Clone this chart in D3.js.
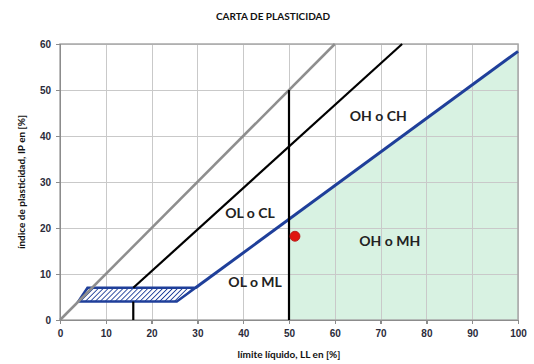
<!doctype html>
<html lang='es'>
<head>
<meta charset='UTF-8'>
<title>Carta de plasticidad</title>
<style>
  body,html{ margin:0; padding:0; background:#fff; font-family:'Lato','Open Sans',sans-serif; }
  .grid line{ stroke:#c9c9c9; stroke-width:1; shape-rendering:crispEdges; }
  .axis path, .axis line{ stroke:#8c8c8c; stroke-width:1.5; shape-rendering:crispEdges; }
  .axis text{ font-size:10px; font-weight:bold; fill:#2b2b3a; }
  .zone{ font-size:14px; font-weight:bold; fill:#222; text-anchor:middle; }
</style>
</head>
<body>
<script src='https://d3js.org/d3.v7.min.js'></script>
<script>
  // ticks
  const xTicks = [0, 10, 20, 30, 40, 50, 60, 70, 80, 90, 100]
  const yTicks = [0, 10, 20, 30, 40, 50, 60]

  // lineas de la carta [LL, IP]
  const lineIP_LL = [[0, 0], [60, 60]]             // IP = LL
  const lineU = [[16, 7], [74.7, 60]]               // linea U
  const lineA = [[29.6, 7], [100, 58.4]]            // linea A
  const hatchBand = [[4, 4], [25.5, 4], [29.6, 7], [6, 7]]
  const greenZone = [[50, 0], [50, 21.9], [100, 58.4], [100, 0]]
  const vLine16 = [[16, 0], [16, 4]]
  const vLine50 = [[50, 0], [50, 50]]

  // muestra
  const sampleLL = [51.3]
  const sampleIP = [18.2]

  // etiquetas de zona
  const zoneNames = ['OH o CH', 'OL o CL', 'OH o MH', 'OL o ML']
  const zoneLL = [69.5, 41.5, 72, 42.6]
  const zoneIP = [43.2, 22.2, 16.0, 7.2]

  const w = 534, h = 364
  const margin = {top: 44, left: 60, right: 16, bottom: 44}
  const width = w - margin.left - margin.right
  const height = h - margin.top - margin.bottom

  const x = d3.scaleLinear().domain([0, 100]).range([0, width])
  const y = d3.scaleLinear().domain([0, 60]).range([height, 0])

  const svg = d3.select('body').append('svg')
    .attr('width', w).attr('height', h)

  // patron rayado
  const pat = svg.append('defs').append('pattern')
    .attr('id', 'hatch')
    .attr('patternUnits', 'userSpaceOnUse')
    .attr('width', 3.5).attr('height', 3.5)
    .attr('patternTransform', 'rotate(45)')
  pat.append('rect').attr('width', 3.5).attr('height', 3.5).attr('fill', '#fff')
  pat.append('line').attr('x1', 0).attr('y1', 0).attr('x2', 0).attr('y2', 3.5)
    .attr('stroke', '#1f3f9a').attr('stroke-width', 1.8)

  // titulo
  svg.append('text')
    .attr('x', 273).attr('y', 20)
    .attr('text-anchor', 'middle')
    .style('font-size', '10px').style('font-weight', 'bold').style('fill', '#111')
    .text('CARTA DE PLASTICIDAD')

  const chart = svg.append('g')
    .attr('transform', `translate(${margin.left}, ${margin.top})`)

  const line = d3.line().x(d => x(d[0])).y(d => y(d[1]))

  // zona verde
  chart.append('path')
    .attr('d', line(greenZone) + 'Z')
    .attr('fill', '#d8f2e2')

  // grilla
  chart.append('g').classed('grid', true)
    .attr('transform', `translate(0, ${height})`)
    .call(d3.axisBottom(x).tickValues(xTicks).tickSize(-height).tickFormat(''))
    .call(g => g.select('.domain').remove())
  chart.append('g').classed('grid', true)
    .call(d3.axisLeft(y).tickValues(yTicks).tickSize(-width).tickFormat(''))
    .call(g => g.select('.domain').remove())

  // borde superior y derecho
  chart.append('rect')
    .attr('width', width).attr('height', height)
    .attr('fill', 'none').attr('stroke', '#a8a8a8').attr('stroke-width', 1.5)

  // banda rayada
  chart.append('path')
    .attr('d', line(hatchBand) + 'Z')
    .attr('fill', 'url(#hatch)')
    .attr('stroke', '#1f3f9a').attr('stroke-width', 2.5)

  chart.append('path').attr('d', line(lineIP_LL))
    .attr('fill', 'none').attr('stroke', '#8e8e8e').attr('stroke-width', 2.5)

  chart.append('path').attr('d', line(lineU))
    .attr('fill', 'none').attr('stroke', '#000').attr('stroke-width', 2.2)

  chart.append('path').attr('d', line(lineA))
    .attr('fill', 'none').attr('stroke', '#1f3f9a').attr('stroke-width', 3)

  chart.append('path').attr('d', line(vLine16))
    .attr('fill', 'none').attr('stroke', '#000').attr('stroke-width', 2.2)
  chart.append('path').attr('d', line(vLine50))
    .attr('fill', 'none').attr('stroke', '#000').attr('stroke-width', 2.2)

  // ejes
  chart.append('g').classed('axis', true)
    .attr('transform', `translate(0, ${height})`)
    .call(d3.axisBottom(x).tickValues(xTicks).tickSize(4).tickPadding(6))
  chart.append('g').classed('axis', true)
    .call(d3.axisLeft(y).tickValues(yTicks).tickSize(4).tickPadding(5))

  // muestra
  chart.selectAll('.sample')
    .data(sampleLL)
    .enter().append('circle')
    .classed('sample', true)
    .attr('cx', d => x(d))
    .attr('cy', (d, i) => y(sampleIP[i]))
    .attr('r', 5)
    .attr('fill', '#e0160f').attr('stroke', '#b01010').attr('stroke-width', 0.8)

  // etiquetas
  chart.selectAll('.zone')
    .data(zoneNames)
    .enter().append('text')
    .classed('zone', true)
    .attr('x', (d, i) => x(zoneLL[i]))
    .attr('y', (d, i) => y(zoneIP[i]))
    .text(d => d)

  // titulos de ejes
  svg.append('text')
    .attr('x', margin.left + width / 2).attr('y', 358)
    .attr('text-anchor', 'middle')
    .style('font-size', '10px').style('font-weight', 'bold').style('fill', '#111')
    .text('límite líquido, LL en [%]')

  svg.append('text')
    .attr('transform', `translate(25, ${margin.top + height / 2}) rotate(-90)`)
    .attr('text-anchor', 'middle')
    .style('font-size', '10px').style('font-weight', 'bold').style('fill', '#111')
    .text('índice de plasticidad, IP en [%]')
</script>
</body>
</html>
